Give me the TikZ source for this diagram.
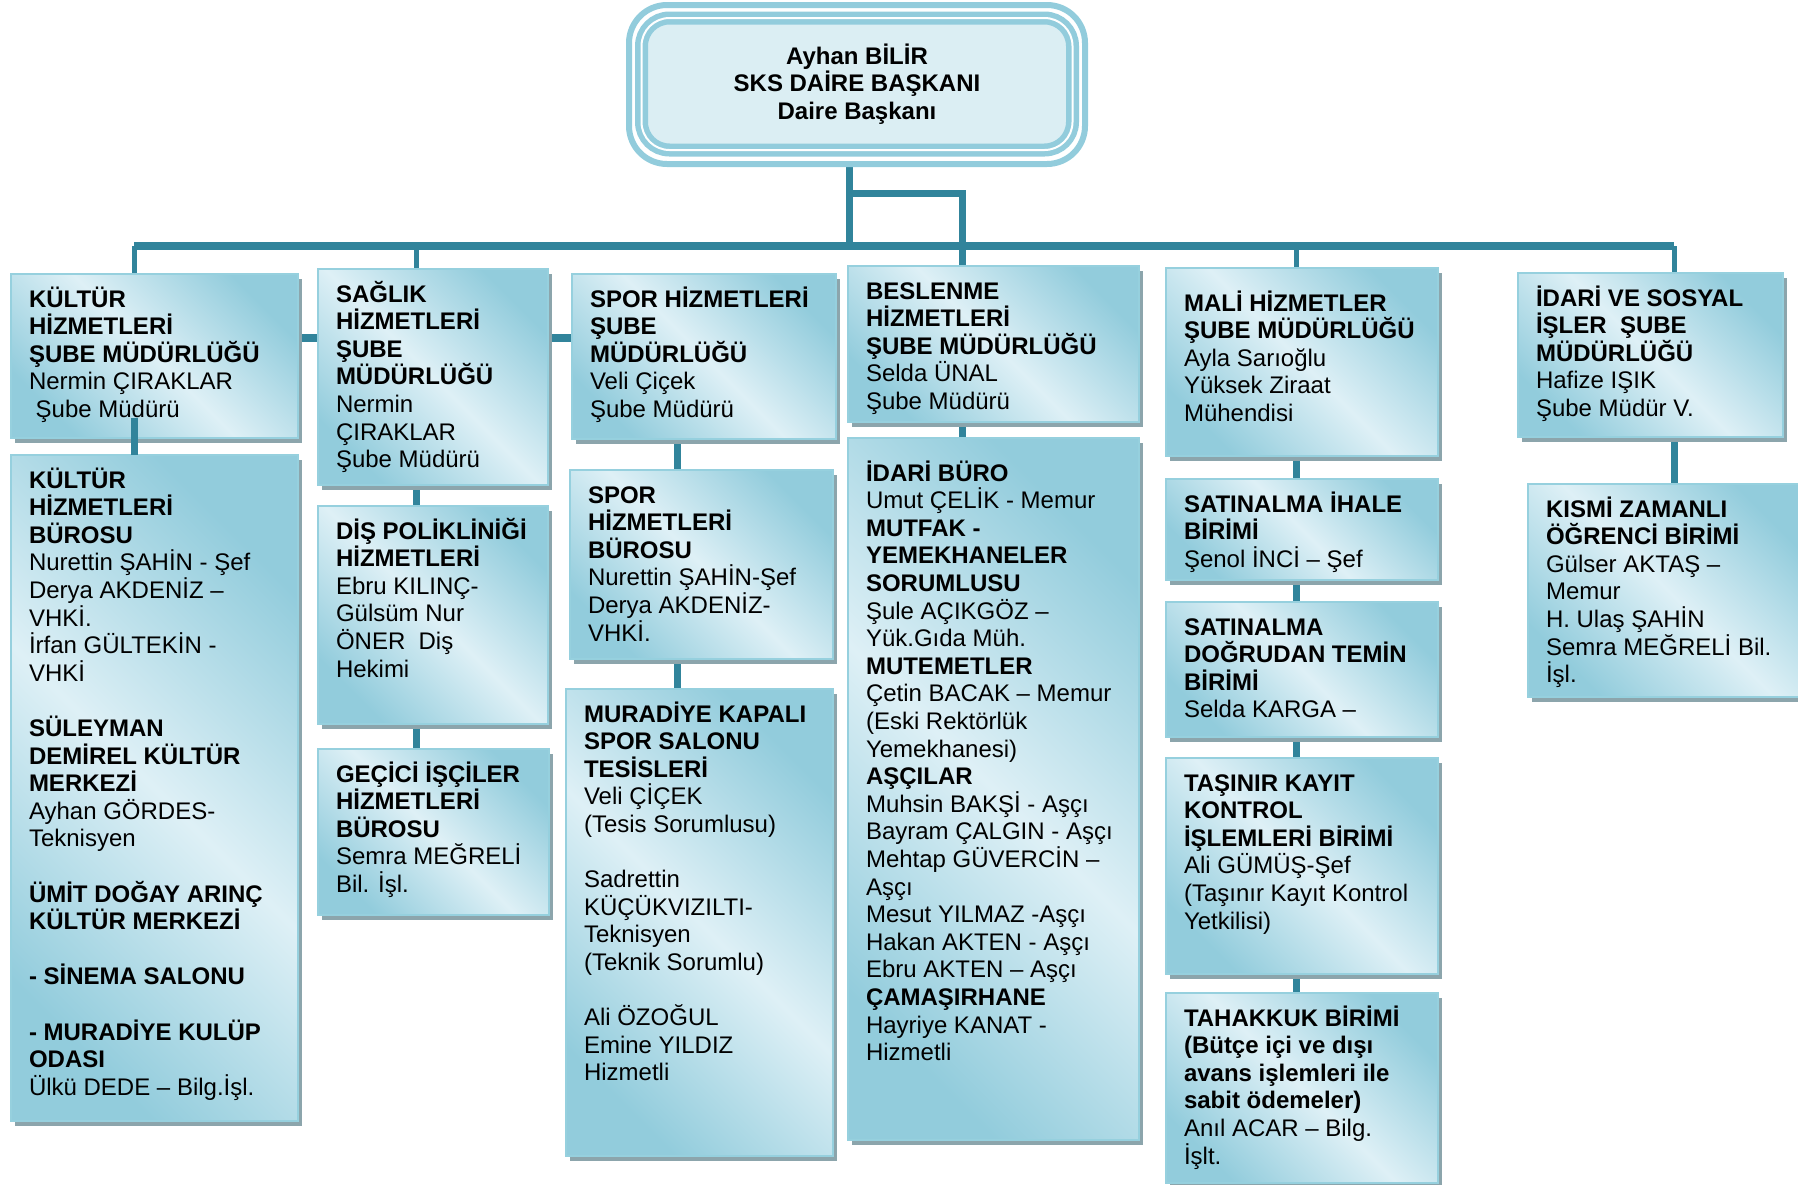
\documentclass[tikz,border=0pt]{standalone}
\usepackage{fontspec}
\setmainfont{Liberation Sans}
\usetikzlibrary{shadows}

\definecolor{linkteal}{RGB}{49,132,155}
\definecolor{boxdark}{RGB}{146,204,220}
\definecolor{boxlight}{RGB}{222,240,246}
\definecolor{boxline}{RGB}{150,208,222}
\definecolor{boxshadow}{RGB}{140,165,172}
\definecolor{chieffill}{RGB}{219,238,243}

\pgfdeclarelayer{background}
\pgfsetlayers{background,main}

\tikzset{
  unit/.style 2 args={draw=boxline, line width=2pt,
    top color=boxdark, bottom color=boxdark, middle color=boxlight, shading angle=-45,
    drop shadow={shadow xshift=4pt, shadow yshift=-5pt, fill=boxshadow, opacity=1},
    anchor=north west, inner sep=0pt, outer sep=0pt,
    execute at begin node={\begin{minipage}[t][#2pt][t]{#1pt}\fontsize{24}{27.6}\selectfont\raggedright\leftskip=18pt\rule{0pt}{33pt}},
    execute at end node={\end{minipage}}},
  chief frame/.style={draw=boxdark, line width=6pt, fill=white, rounded corners=38pt, inner sep=0pt},
  chief/.style={draw=boxdark, line width=5.5pt, double=white, double distance=2pt, fill=chieffill,
    rounded corners=28pt, inner sep=0pt, align=center, font=\fontsize{24}{27.6}\selectfont\bfseries},
  bar/.style={draw=linkteal, line width=8pt},
  link/.style={draw=linkteal, line width=7pt},
  drop/.style={draw=linkteal, line width=5pt}
}

\begin{document}
\begin{tikzpicture}[x=1pt, y=-1pt]
  \useasboundingbox (0,0) rectangle (1798,1184);

  % daire baskani
  \node[chief frame, minimum width=456pt, minimum height=159pt] (dbsframe) at (857,84.5) {};
  \node[chief, minimum width=431pt, minimum height=132pt] (dbs) at (857,84) {Ayhan BİLİR\\SKS DAİRE BAŞKANI\\Daire Başkanı};

  % kultur
  \node[unit={287}{164}] (kulsube) at (11,274) {{\bfseries KÜLTÜR\\ HİZMETLERİ\\ ŞUBE MÜDÜRLÜĞÜ}\\ Nermin ÇIRAKLAR\\ \hspace*{6.7pt}Şube Müdürü};
  \node[unit={287}{666}] (kulburo) at (11,455) {{\bfseries KÜLTÜR\\ HİZMETLERİ\\ BÜROSU}\\
    Nurettin ŞAHİN - Şef\\ Derya AKDENİZ –\\ VHKİ.\\ İrfan GÜLTEKİN -\\ VHKİ\\[27.6pt]
    {\bfseries SÜLEYMAN\\ DEMİREL KÜLTÜR\\ MERKEZİ}\\ Ayhan GÖRDES-\\ Teknisyen\\[27.6pt]
    {\bfseries ÜMİT DOĞAY ARINÇ\\ KÜLTÜR MERKEZİ\\[27.6pt] - SİNEMA SALONU\\[27.6pt] - MURADİYE KULÜP\\ ODASI}\\
    Ülkü DEDE – Bilg.İşl.};

  % saglik
  \node[unit={230}{216}] (saglik) at (318,269) {{\bfseries SAĞLIK\\ HİZMETLERİ\\ ŞUBE\\ MÜDÜRLÜĞÜ}\\ Nermin\\ ÇIRAKLAR\\ Şube Müdürü};
  \node[unit={230}{218}] (dis) at (318,506) {{\bfseries DİŞ POLİKLİNİĞİ\\ HİZMETLERİ}\\ Ebru KILINÇ-\\ Gülsüm Nur\\ ÖNER\ \ Diş\\ Hekimi};
  \node[unit={231}{166}] (gecici) at (318,749) {{\bfseries GEÇİCİ İŞÇİLER\\ HİZMETLERİ\\ BÜROSU}\\ Semra MEĞRELİ\\ Bil. İşl.};

  % spor
  \node[unit={264}{165}] (spor) at (572,274) {{\bfseries SPOR HİZMETLERİ\\ ŞUBE\\ MÜDÜRLÜĞÜ}\\ Veli Çiçek\\ Şube Müdürü};
  \node[unit={263}{189}] (sporburo) at (570,470) {{\bfseries SPOR\\ HİZMETLERİ\\ BÜROSU}\\ Nurettin ŞAHİN-Şef\\ Derya AKDENİZ-\\ VHKİ.};
  \node[unit={267}{467}] (muradiye) at (566,689) {{\bfseries MURADİYE KAPALI\\ SPOR SALONU\\ TESİSLERİ}\\ Veli ÇİÇEK\\ (Tesis Sorumlusu)\\[27.6pt]
    Sadrettin\\ KÜÇÜKVIZILTI-\\ Teknisyen\\ (Teknik Sorumlu)\\[27.6pt] Ali ÖZOĞUL\\ Emine YILDIZ\\ Hizmetli};

  % beslenme
  \node[unit={291}{156}] (beslenme) at (848,266) {{\bfseries BESLENME\\ HİZMETLERİ\\ ŞUBE MÜDÜRLÜĞÜ}\\ Selda ÜNAL\\ Şube Müdürü};
  \node[unit={291}{702}] (idariburo) at (848,438) {\rule{0pt}{43pt}{\bfseries İDARİ BÜRO}\\ Umut ÇELİK - Memur\\
    {\bfseries MUTFAK -\\ YEMEKHANELER\\ SORUMLUSU}\\ Şule AÇIKGÖZ –\\ Yük.Gıda Müh.\\
    {\bfseries MUTEMETLER}\\ Çetin BACAK – Memur\\ (Eski Rektörlük\\ Yemekhanesi)\\
    {\bfseries AŞÇILAR}\\ Muhsin BAKŞİ - Aşçı\\ Bayram ÇALGIN - Aşçı\\ Mehtap GÜVERCİN –\\ Aşçı\\
    Mesut YILMAZ -Aşçı\\ Hakan AKTEN - Aşçı\\ Ebru AKTEN – Aşçı\\
    {\bfseries ÇAMAŞIRHANE}\\ Hayriye KANAT -\\ Hizmetli};

  % mali hizmetler
  \node[unit={272}{188}] (mali) at (1166,268) {\rule{0pt}{43pt}{\bfseries MALİ HİZMETLER\\ ŞUBE MÜDÜRLÜĞÜ}\\ Ayla Sarıoğlu\\ Yüksek Ziraat\\ Mühendisi};
  \node[unit={272}{101}] (ihale) at (1166,479) {{\bfseries SATINALMA İHALE\\ BİRİMİ}\\ Şenol İNCİ – Şef};
  \node[unit={272}{135}] (dogrudan) at (1166,602) {{\bfseries SATINALMA\\ DOĞRUDAN TEMİN\\ BİRİMİ}\\ Selda KARGA –};
  \node[unit={272}{216}] (tasinir) at (1166,758) {{\bfseries TAŞINIR KAYIT\\ KONTROL\\ İŞLEMLERİ BİRİMİ}\\ Ali GÜMÜŞ-Şef\\ (Taşınır Kayıt Kontrol\\ Yetkilisi)};
  \node[unit={272}{190}] (tahakkuk) at (1166,993) {{\bfseries TAHAKKUK BİRİMİ\\ (Bütçe içi ve dışı\\ avans işlemleri ile\\ sabit ödemeler)}\\ Anıl ACAR – Bilg.\\ İşlt.};

  % idari ve sosyal isler
  \node[unit={265}{164}] (idarisosyal) at (1518,273) {{\bfseries İDARİ VE SOSYAL\\ İŞLER\ \ ŞUBE\\ MÜDÜRLÜĞÜ}\\ Hafize IŞIK\\ Şube Müdür V.};
  \node[unit={280}{213}] (kismi) at (1528,484) {{\bfseries KISMİ ZAMANLI\\ ÖĞRENCİ BİRİMİ}\\ Gülser AKTAŞ –\\ Memur\\ H. Ulaş ŞAHİN\\ Semra MEĞRELİ Bil.\\ İşl.};

  % connectors
  \begin{pgfonlayer}{background}
    \coordinate (hub) at (849,246);
    \coordinate (elbow) at (849,193);
    \coordinate (colK) at (134,246);
    \coordinate (colS) at (416,246);
    \coordinate (colP) at (677,246);
    \coordinate (colB) at (962,246);
    \coordinate (colM) at (1296,246);
    \coordinate (colI) at (1674,246);
    \coordinate (stub) at (0,338);

    \draw[bar] (colK) -- (colI);
    \draw[link] (hub |- dbsframe.south) -- (hub);
    \draw[link] (elbow) -| (colB |- beslenme.north);

    \draw[drop] (colK) -- (colK |- kulsube.north);
    \draw[drop] (colS) -- (colS |- saglik.north);
    \draw[drop] (colM) -- (colM |- mali.north);
    \draw[drop] (colI) -- (colI |- idarisosyal.north);

    \draw[bar] (kulsube.east |- stub) -- (saglik.west |- stub);
    \draw[bar] (saglik.east |- stub) -- (spor.west |- stub);

    \draw[link] (colS |- saglik.south) -- (colS |- dis.north);
    \draw[link] (colS |- dis.south) -- (colS |- gecici.north);
    \draw[link] (colP |- spor.south) -- (colP |- sporburo.north);
    \draw[link] (colP |- sporburo.south) -- (colP |- muradiye.north);
    \draw[link] (colB |- beslenme.south) -- (colB |- idariburo.north);
    \draw[link] (colM |- mali.south) -- (colM |- ihale.north);
    \draw[link] (colM |- ihale.south) -- (colM |- dogrudan.north);
    \draw[link] (colM |- dogrudan.south) -- (colM |- tasinir.north);
    \draw[link] (colM |- tasinir.south) -- (colM |- tahakkuk.north);
    \draw[link] (colI |- idarisosyal.south) -- (colI |- kismi.north);
  \end{pgfonlayer}

  \coordinate (kjoin) at (134,418);
  \draw[link] (kjoin) -- (colK |- kulburo.north);

\end{tikzpicture}
\end{document}
